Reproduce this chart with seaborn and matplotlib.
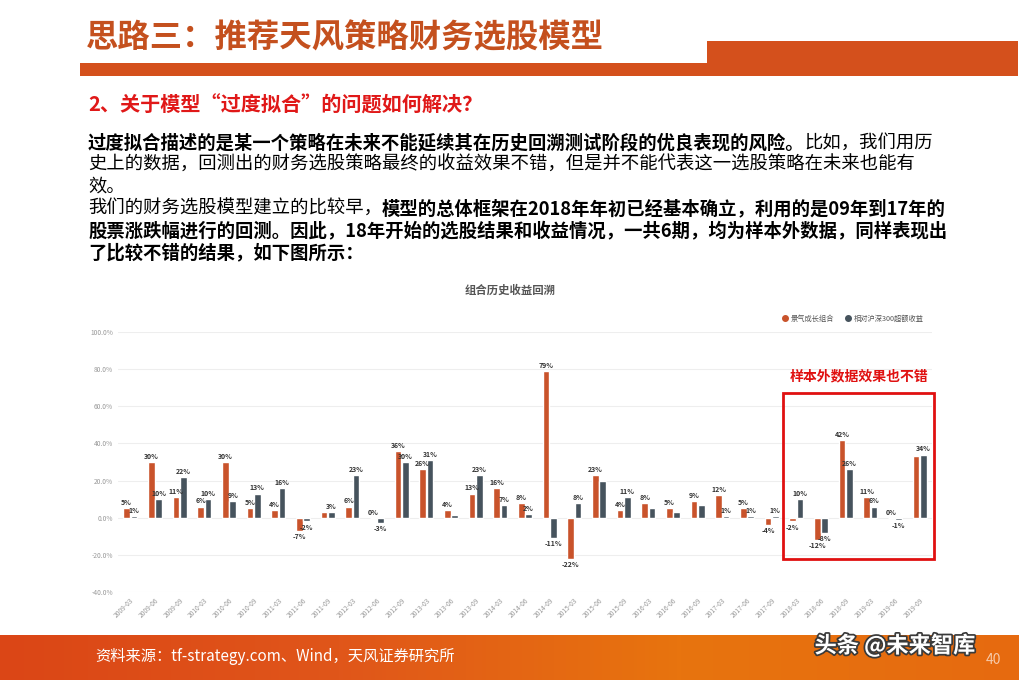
import matplotlib.pyplot as plt
import matplotlib.patheffects as pe
from matplotlib.lines import Line2D
from matplotlib.patches import Rectangle
from matplotlib.colors import LinearSegmentedColormap
from matplotlib.ticker import FuncFormatter
import seaborn as sns
import numpy as np
import pandas as pd

# --- data ---
periods = ['2009-03', '2009-06', '2009-09', '2010-03', '2010-06', '2010-09',
           '2011-03', '2011-06', '2011-09', '2012-03', '2012-06', '2012-09',
           '2013-03', '2013-06', '2013-09', '2014-03', '2014-06', '2014-09',
           '2015-03', '2015-06', '2015-09', '2016-03', '2016-06', '2016-09',
           '2017-03', '2017-06', '2017-09', '2018-03', '2018-06', '2018-09',
           '2019-03', '2019-06', '2019-09']
portfolio = [5, 30, 11, 6, 30, 5, 4, -7, 3, 6, 0, 36, 26, 4, 13, 16, 8, 79,
             -22, 23, 4, 8, 5, 9, 12, 5, -4, -2, -12, 42, 11, 0, 33]
excess = [1, 10, 22, 10, 9, 13, 16, -2, 3, 23, -3, 30, 31, 1.2, 23, 7, 2, -11,
          8, 20, 11, 5.4, 3.2, 6.6, 1, 1, 1, 10, -8, 26, 6, -1, 34]
# which value labels are printed on the chart
portfolio_shown = [True] * 33
portfolio_shown[8] = False
portfolio_shown[32] = False
excess_shown = [True] * 33
for i in [13, 19, 21, 22, 23]:
    excess_shown[i] = False

series_names = ['景气成长组合', '相对沪深300超额收益']
yticks = [-40, -20, 0, 20, 40, 60, 80, 100]

df = pd.DataFrame({
    'period': periods * 2,
    'value': portfolio + excess,
    'series': [series_names[0]] * len(periods) + [series_names[1]] * len(periods),
})

# --- style ---
sns.set_theme(style="white")
plt.rcParams['font.family'] = ['Noto Sans CJK SC', 'DejaVu Sans']
plt.rcParams['axes.unicode_minus'] = False

W, H = 1020, 680
ORANGE = '#C9532B'
SLATE = '#46535D'
HEAD = '#D4501C'

fig = plt.figure(figsize=(W / 100, H / 100), dpi=100)
fig.patch.set_facecolor('white')


def fx(x):
    return x / W


def fy(y):
    return 1 - y / H


# header bars and title
fig.add_artist(Rectangle((fx(80), fy(76)), fx(628), 13 / H, transform=fig.transFigure,
                         color=HEAD, lw=0))
fig.add_artist(Rectangle((fx(707), fy(76)), fx(311), 35 / H, transform=fig.transFigure,
                         color=HEAD, lw=0))
fig.text(fx(86), fy(38), '思路三：推荐天风策略财务选股模型', fontsize=23.3, fontweight='bold',
         color='#C4501E', va='center', ha='left')
fig.text(fx(88), fy(105), '2、关于模型“过度拟合”的问题如何解决？', fontsize=14.5,
         fontweight='bold', color='#E01818', va='center', ha='left')

# body text with mixed weights
renderer = fig.canvas.get_renderer()


def draw_runs(x, y, runs, size=13.2):
    for txt, bold in runs:
        t = fig.text(fx(x), fy(y), txt, fontsize=size, fontweight='bold' if bold else 'normal',
                     color='black', va='center', ha='left')
        x += t.get_window_extent(renderer).width


body = [
    [('过度拟合描述的是某一个策略在未来不能延续其在历史回溯测试阶段的优良表现的风险。', True),
     ('比如，我们用历', False)],
    [('史上的数据，回测出的财务选股策略最终的收益效果不错，但是并不能代表这一选股策略在未来也能有', False)],
    [('效。', False)],
    [('我们的财务选股模型建立的比较早，', False),
     ('模型的总体框架在2018年年初已经基本确立，利用的是09年到17年的', True)],
    [('股票涨跌幅进行的回测。因此，18年开始的选股结果和收益情况，一共6期，均为样本外数据，同样表现出', True)],
    [('了比较不错的结果，如下图所示：', True)],
]
for k, runs in enumerate(body):
    draw_runs(88, 143 + 22 * k, runs)

# --- chart ---
ax = fig.add_axes([fx(118), fy(592), (932 - 118) / W, (592 - 332) / H])
sns.barplot(data=df, x='period', y='value', hue='series', hue_order=series_names,
            palette=[ORANGE, SLATE], saturation=1, width=0.6, gap=0.08,
            legend=False, ax=ax)

shown = [portfolio_shown, excess_shown]
vals = [portfolio, excess]
for c, cont in enumerate(ax.containers):
    labels = [f'{v:.0f}%' if s else '' for v, s in zip(vals[c], shown[c])]
    ax.bar_label(cont, labels=labels, padding=1.5, fontsize=5, fontweight='bold',
                 color='#333333')

ax.set_ylim(-40, 100)
ax.set_yticks(yticks)
ax.yaxis.set_major_formatter(FuncFormatter(lambda v, _: f'{v:.1f}%'))
ax.set_xlim(-0.5, len(periods) - 0.5)
ax.grid(axis='y', color='#EEEEEE', lw=0.8)
ax.set_axisbelow(True)
for s in ax.spines.values():
    s.set_visible(False)
ax.tick_params(axis='both', length=0, labelsize=4.8, labelcolor='#999999')
ax.tick_params(axis='x', pad=3)
plt.setp(ax.get_xticklabels(), rotation=45, ha='right', rotation_mode='anchor')
ax.set_xlabel('')
ax.set_ylabel('')

fig.text(fx(510), fy(290), '组合历史收益回溯', fontsize=8.2, fontweight='bold',
         color='#555555', ha='center', va='center')

handles = [Line2D([], [], marker='o', ls='', color=ORANGE, markersize=4),
           Line2D([], [], marker='o', ls='', color=SLATE, markersize=4)]
ax.legend(handles, series_names, loc='center right', bbox_to_anchor=(fx(930), fy(319)),
          bbox_transform=fig.transFigure, ncol=2, frameon=False, fontsize=5.2,
          handletextpad=0.3, columnspacing=1.6, handlelength=0.8, labelcolor='#555555')

# out-of-sample highlight
ax.add_patch(Rectangle((26.45, -22), 6.15, 89, fill=False, ec='#E01010', lw=2,
                       clip_on=False))
ax.text(29.55, 76, '样本外数据效果也不错', fontsize=10, fontweight='bold', color='#E01010',
        ha='center', va='center')

# --- footer ---
axf = fig.add_axes([0, 0, 1, 45 / H])
grad = np.linspace(0, 1, 256).reshape(1, -1)
cmap = LinearSegmentedColormap.from_list('foot', ['#DB4616', '#E0561A', '#E8740E', '#E66A10'])
axf.imshow(grad, aspect='auto', cmap=cmap, extent=[0, 1, 0, 1])
axf.axis('off')
fig.text(fx(95), fy(656), '资料来源：tf-strategy.com、Wind，天风证券研究所', fontsize=11,
         color='white', ha='left', va='center')
fig.text(fx(895), fy(646), '头条 @未来智库', fontsize=16, fontweight='bold', color='white',
         ha='center', va='center',
         path_effects=[pe.withStroke(linewidth=2.5, foreground='#3A3A3A')])
fig.text(fx(993), fy(660), '40', fontsize=10, color='#F6C9A8', ha='center', va='center')

fig.savefig('out.png', dpi=100)
plt.close(fig)
